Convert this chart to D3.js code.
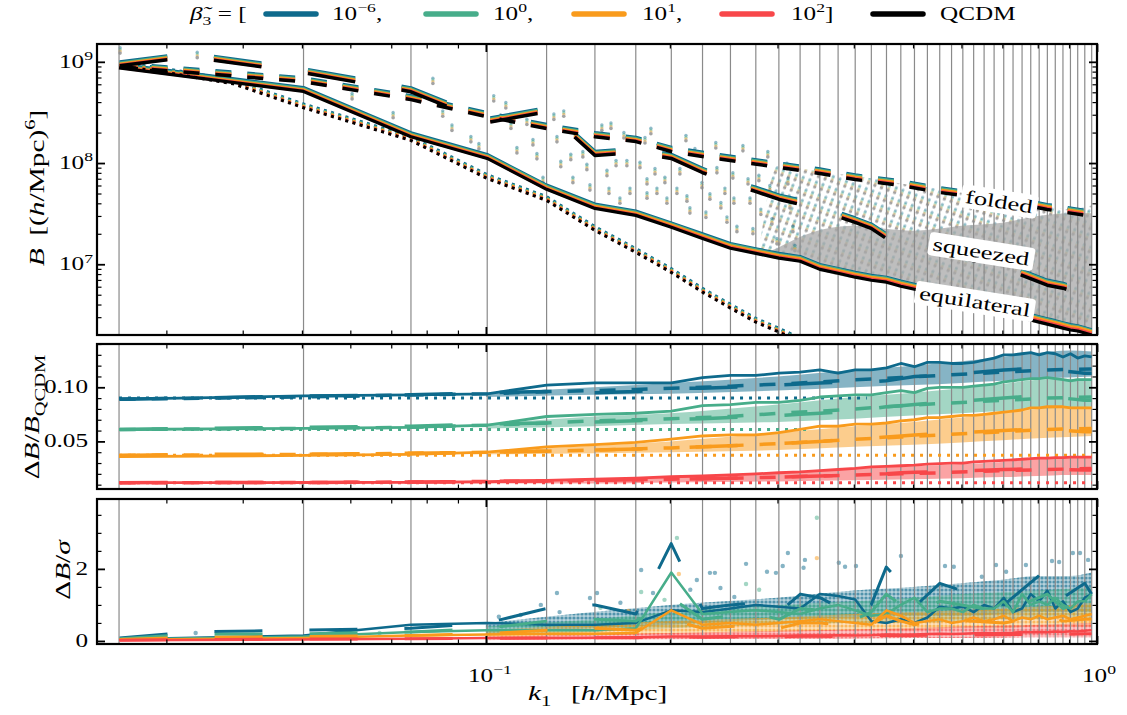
<!DOCTYPE html>
<html>
<head>
<meta charset="utf-8">
<script src="https://cdn.jsdelivr.net/npm/d3@7/dist/d3.min.js"></script>
<style>
body{margin:0;background:#fff;}
</style>
</head>
<body>
<svg id="fig" width="1127" height="715"></svg>
<script>
// k1 bins, multiples of the fundamental mode (h/Mpc)
var kBins = [0.0251,0.0503,0.0754,0.1005,0.1257,0.1508,0.1759,0.2011,0.2262,0.2513,0.2765,0.3016,0.3267,0.3519,0.3770,0.4021,0.4273,0.4524,0.4775,0.5027,0.5278,0.5529,0.5781,0.6032,0.6283,0.6535,0.6786,0.7037,0.7288,0.7540,0.7791,0.8042,0.8294,0.8545,0.8796,0.9048,0.9299,0.9550,0.9802];

// top panel: QCDM bispectrum
var bEquilQCDM = [8.7e8,5.1e8,1.82e8,1.11e8,5.5e7,3.56e7,3.04e7,2.32e7,1.80e7,1.44e7,1.28e7,1.15e7,1.07e7,8.9e6,8.15e6,7.45e6,6.95e6,6.65e6,6.07e6,5.67e6,5.30e6,4.95e6,4.62e6,4.32e6,4.03e6,3.77e6,3.52e6,3.29e6,3.07e6,2.94e6,2.81e6,2.68e6,2.56e6,2.45e6,2.34e6,2.24e6,2.19e6,2.09e6,2.0e6];
var kSqueezed = [0.02516,0.0328,0.0503,0.0754,0.1005,0.1257,0.1508,0.176,0.201,0.226,0.251,0.276,0.302,0.327,0.352,0.402,0.427,0.452,0.478,0.503,0.553,0.704,0.829,0.880,0.955,0.980];
var bSqueezedQCDM = [9.14e8,1.12e9,7.8e8,5.06e8,2.51e8,3.21e8,1.19e8,1.27e8,1.11e8,8.06e7,6.28e7,5.24e7,4.37e7,3.90e7,3.40e7,2.59e7,2.26e7,1.80e7,1.61e7,1.65e7,1.31e7,9.14e6,6.21e6,5.80e6,4.95e6,4.62e6];
var kFolded = [0.02516,0.0503,0.0754,0.1005,0.1257,0.1508,0.176,0.201,0.226,0.251,0.302,0.352,0.402,0.478,0.553,0.704,0.829,0.980];
var bFoldedQCDM = [8.93e8,6.36e8,4.23e8,2.87e8,2.19e8,1.82e8,1.63e8,1.30e8,1.16e8,1.06e8,9.04e7,7.89e7,6.88e7,6.00e7,5.12e7,4.18e7,3.48e7,2.97e7];
var kDotted = [0.0252,0.0301,0.0386,0.0503,0.0754,0.1005,0.1257,0.1508,0.1759,0.2011,0.2262,0.2513,0.2765,0.3016,0.3267];
var bDottedQCDM = [9.1e8,7.8e8,6.07e8,3.52e8,1.67e8,7.03e7,4.27e7,2.16e7,1.31e7,8.3e6,5.3e6,3.69e6,2.68e6,2.14e6,1.71e6];

// cloud of all triangle configurations (envelopes at high k, single points below)
var kCloud = [0.28,0.30,0.33,0.36,0.40,0.45,0.50,0.55,0.60,0.70,0.80,0.90,0.98];
var bCloudTop = [1.4e7,9.4e7,8.8e7,8.0e7,7.5e7,6.7e7,6.0e7,5.6e7,5.1e7,4.5e7,4.0e7,3.5e7,3.8e7];
var bCloudMid = [1.22e7,1.45e7,1.91e7,2.24e7,2.4e7,2.24e7,2.14e7,2.24e7,2.4e7,2.57e7,3.0e7,3.2e7,3.2e7];
var bCloudLow = [1.22e7,1.13e7,1.03e7,8.4e6,7.3e6,6.6e6,5.6e6,4.9e6,4.3e6,3.2e6,2.6e6,2.25e6,1.96e6];
var topDotK = [0.0252,0.0337,0.0604,0.0705,0.0819,0.0850,0.0880,0.0945,0.0974,0.1030,0.1078,0.1099,0.1124,0.1167,0.1194,0.1212,0.1240,0.1292,0.1307,0.1341,0.1326,0.1377,0.1388,0.1441,0.1463,0.1480,0.1548,0.1602,0.1578,0.1590,0.1633,0.1657,0.1682,0.1701,0.1721,0.1787,0.1821,0.1835,0.1862,0.1835,0.1891,0.1905,0.1963,0.1978,0.2054,0.2077,0.2125,0.2133,0.2157,0.2198,0.2257,0.2291,0.2326,0.2378,0.2388,0.2424,0.2461,0.2480,0.2536,0.2546,0.2575,0.2634,0.2685,0.2705,0.2735,0.2797,0.2818,0.2893,0.2915,0.2938,0.2994,0.3109,0.3121,0.3145,0.3180,0.3204];
var topDotB = [1.22e9,1.10e9,4.3e8,2.8e8,6.1e8,2.9e8,2.1e8,1.62e8,1.38e8,4.1e8,3.5e8,2.2e8,1.26e8,2.4e8,1.51e8,1.10e8,6.4e7,2.7e8,1.62e8,2.9e8,9.2e7,1.08e8,6.4e7,1.15e8,8.6e7,5.4e7,2.1e8,2.2e8,7.5e7,5.0e7,9.4e7,4.0e7,1.77e8,9.4e7,5.0e7,9.0e7,1.58e8,6.2e7,1.95e8,4.5e7,7.8e7,5.0e7,6.4e7,4.0e7,5.0e7,7.8e7,1.66e8,4.2e7,3.2e7,1.23e8,5.7e7,2.9e7,4.4e7,1.41e8,8.0e7,3.6e7,5.0e7,2.6e7,7.1e7,4.0e7,2.1e7,1.32e8,6.2e7,4.0e7,2.0e7,6.7e7,3.1e7,1.15e8,5.3e7,2.5e7,1.59e7,8.8e7,6.2e7,3.6e7,2.1e7,1.36e7];

// shape labels
var shapeNames = ["folded","squeezed","equilateral"];
var shapeK = [0.691,0.646,0.631];
var shapeB = [4.12e7,1.32e7,4.23e6];

// models
var betaLabels = ["\u22126","0","1","2"];
var betaColors = ["#0e6a8c","#47ad8a","#f99b1c","#f8474a"];

// middle panel: Delta B / B_QCDM
var ratioSolidBlue = [0.089,0.092,0.093,0.094,0.102,0.104,0.104,0.104,0.109,0.111,0.111,0.113,0.114,0.116,0.113,0.116,0.116,0.118,0.122,0.119,0.123,0.123,0.122,0.122,0.123,0.125,0.127,0.130,0.130,0.131,0.132,0.130,0.132,0.131,0.128,0.131,0.127,0.129,0.128];
var ratioSolidGreen = [0.061,0.062,0.063,0.065,0.073,0.075,0.076,0.078,0.083,0.084,0.086,0.086,0.088,0.091,0.092,0.093,0.093,0.095,0.097,0.095,0.099,0.100,0.100,0.100,0.101,0.102,0.103,0.105,0.106,0.107,0.108,0.108,0.109,0.108,0.107,0.106,0.107,0.107,0.107];
var ratioSolidOrange = [0.036,0.037,0.038,0.040,0.045,0.047,0.049,0.052,0.055,0.056,0.056,0.058,0.061,0.064,0.064,0.066,0.066,0.067,0.069,0.070,0.072,0.072,0.073,0.074,0.074,0.075,0.076,0.077,0.078,0.079,0.081,0.081,0.082,0.082,0.082,0.081,0.081,0.081,0.081];
var ratioSolidRed = [0.0118,0.012,0.0122,0.0127,0.014,0.015,0.016,0.0173,0.018,0.019,0.020,0.021,0.0218,0.023,0.024,0.025,0.0264,0.027,0.0275,0.028,0.029,0.0295,0.030,0.030,0.031,0.0315,0.032,0.0325,0.033,0.0335,0.034,0.0345,0.0345,0.035,0.035,0.0355,0.0355,0.0355,0.0355];
var ratioSqBlue = [0.089,0.090,0.092,0.093,0.095,0.096,0.095,0.096,0.099,0.099,0.100,0.101,0.102,0.103,0.104,0.105,0.105,0.106,0.108,0.110,0.111,0.116,0.118,0.115,0.113,0.113];
var ratioSqGreen = [0.061,0.062,0.063,0.064,0.066,0.067,0.068,0.069,0.070,0.071,0.072,0.073,0.074,0.075,0.076,0.078,0.080,0.082,0.083,0.084,0.086,0.090,0.093,0.090,0.088,0.088];
var ratioSqOrange = [0.037,0.038,0.038,0.039,0.040,0.041,0.042,0.043,0.044,0.045,0.046,0.047,0.048,0.049,0.050,0.052,0.053,0.054,0.055,0.056,0.057,0.060,0.062,0.060,0.059,0.059];
var ratioSqRed = [0.0118,0.012,0.012,0.0125,0.013,0.0135,0.014,0.0145,0.015,0.0155,0.016,0.0165,0.017,0.0175,0.018,0.019,0.0195,0.020,0.021,0.0215,0.022,0.024,0.025,0.024,0.0235,0.0235];
var ratioFoBlue = [0.089,0.091,0.093,0.094,0.096,0.097,0.098,0.099,0.100,0.101,0.103,0.105,0.107,0.109,0.111,0.114,0.116,0.117];
var ratioFoGreen = [0.061,0.062,0.063,0.065,0.067,0.069,0.070,0.071,0.072,0.073,0.076,0.078,0.080,0.083,0.085,0.088,0.090,0.091];
var ratioFoOrange = [0.037,0.038,0.039,0.040,0.041,0.042,0.043,0.044,0.045,0.046,0.048,0.050,0.052,0.054,0.056,0.059,0.061,0.062];
var ratioFoRed = [0.0118,0.012,0.0125,0.013,0.0135,0.014,0.0145,0.015,0.0155,0.016,0.017,0.018,0.019,0.020,0.021,0.023,0.024,0.025];
var ratioDotLevel = [0.090,0.061,0.0373,0.0118];
var ratioDotKmax = [0.42,0.34,0.98,0.98];
var kBand = [0.1,0.15,0.2,0.3,0.4,0.5,0.6,0.7,0.8,0.9,0.98];
var bandMidBlueLo = [0.091,0.093,0.094,0.097,0.100,0.102,0.104,0.106,0.108,0.109,0.110];
var bandMidBlueHi = [0.095,0.100,0.104,0.110,0.116,0.120,0.124,0.128,0.132,0.134,0.133];
var bandMidGreenLo = [0.062,0.064,0.066,0.068,0.071,0.074,0.076,0.078,0.080,0.081,0.082];
var bandMidGreenHi = [0.066,0.073,0.076,0.084,0.091,0.095,0.099,0.103,0.107,0.108,0.108];
var bandMidOrangeLo = [0.038,0.039,0.040,0.042,0.045,0.047,0.049,0.051,0.053,0.054,0.055];
var bandMidOrangeHi = [0.041,0.046,0.050,0.058,0.064,0.068,0.072,0.076,0.080,0.082,0.082];
var bandMidRedLo = [0.011,0.011,0.012,0.013,0.014,0.015,0.016,0.017,0.018,0.019,0.019];
var bandMidRedHi = [0.0135,0.015,0.017,0.021,0.025,0.027,0.029,0.031,0.034,0.035,0.036];

// bottom panel: Delta B / sigma
var sigSolidBlue = [0.05,0.15,0.45,0.5,0.45,0.45,0.5,0.85,0.8,0.9,1.0,0.95,0.9,1.3,1.25,1.15,0.55,0.5,0.6,0.5,0.65,0.95,0.9,0.95,0.8,1.0,0.9,1.2,0.8,0.9,1.3,1.1,1.4,0.9,1.1,0.8,0.9,1.2,1.3];
var sigSolidGreen = [0.04,0.12,0.25,0.3,0.3,0.3,0.35,1.9,0.75,0.8,0.85,0.8,0.75,0.9,1.0,0.85,0.7,0.75,1.0,1.2,0.8,0.9,0.9,0.8,1.0,0.9,0.9,1.1,0.8,1.3,1.0,1.1,1.0,1.2,1.0,0.9,1.1,1.1,1.3];
var sigSolidOrange = [0.03,0.08,0.15,0.18,0.2,0.2,0.22,0.85,0.45,0.5,0.45,0.5,0.55,0.6,0.55,0.5,0.45,0.85,0.7,0.5,0.55,0.6,0.5,0.55,0.65,0.55,0.6,0.7,0.55,0.65,0.6,0.7,0.6,0.65,0.7,0.6,0.65,0.7,0.75];
var sigSolidRed = [0.02,0.04,0.06,0.08,0.08,0.09,0.1,0.12,0.12,0.13,0.13,0.14,0.15,0.15,0.16,0.15,0.16,0.18,0.17,0.18,0.19,0.2,0.19,0.2,0.21,0.22,0.21,0.22,0.23,0.25,0.24,0.25,0.24,0.26,0.25,0.27,0.26,0.28,0.3];
var sigSqBlue = [0.08,0.25,0.3,0.35,0.5,0.9,1.0,0.75,2.7,0.9,1.0,1.05,0.8,1.3,1.2,0.7,1.0,2.05,1.6,0.95,1.6,1.0,2.0,1.2,1.6,1.3];
var sigSqGreen = [0.06,0.18,0.2,0.25,0.35,0.55,0.6,0.55,1.2,0.6,0.7,0.75,0.6,0.9,0.85,0.6,0.8,1.3,1.0,0.75,1.1,0.8,1.3,0.9,1.1,1.0];
var sigSqOrange = [0.04,0.1,0.12,0.15,0.2,0.3,0.35,0.3,0.6,0.35,0.4,0.45,0.35,0.5,0.5,0.4,0.45,0.7,0.55,0.45,0.6,0.5,0.7,0.55,0.6,0.6];
var sigSqRed = [0.02,0.04,0.05,0.06,0.07,0.08,0.09,0.09,0.12,0.1,0.11,0.12,0.11,0.13,0.13,0.12,0.14,0.16,0.15,0.15,0.16,0.17,0.19,0.18,0.2,0.2];
var bandBotBlueLo = [0.2,0.35,0.45,0.6,0.65,0.7,0.7,0.75,0.8,0.8,0.8];
var bandBotBlueHi = [0.5,0.8,1.0,1.2,1.4,1.5,1.6,1.7,1.8,1.8,1.9];
var bandBotGreenLo = [0.15,0.25,0.35,0.45,0.5,0.5,0.55,0.6,0.6,0.65,0.65];
var bandBotGreenHi = [0.4,0.6,0.8,1.0,1.1,1.2,1.3,1.35,1.4,1.45,1.5];
var bandBotOrangeLo = [0.08,0.15,0.2,0.25,0.3,0.3,0.35,0.35,0.4,0.4,0.4];
var bandBotOrangeHi = [0.3,0.45,0.55,0.65,0.75,0.8,0.85,0.9,0.95,1.0,1.05];
var bandBotRedLo = [0.02,0.04,0.05,0.06,0.07,0.08,0.08,0.09,0.1,0.1,0.1];
var bandBotRedHi = [0.12,0.18,0.22,0.28,0.32,0.36,0.4,0.42,0.45,0.48,0.5];
var botDotK = [0.0335,0.067,0.1795,0.1795,0.2054,0.2069,0.2326,0.237,0.2665,0.2884,0.2983,0.312,0.306,0.1307,0.148,0.152,0.1877,0.2214,0.2665,0.348,0.348,0.3327,0.331,0.378,0.387,0.4033,0.4777,0.564,0.583,0.6835,0.71,0.765,0.844,0.867,0.913,0.938,0.967,0.648,0.166,0.196,0.255,0.28,0.216,0.242,0.154,0.132,0.114,0.105,0.123,0.171];
var botDotV = [0.22,0.22,1.97,1.36,2.86,1.86,1.89,1.89,2.14,1.92,1.89,2.44,2.08,1.33,1.19,1.33,1.33,1.69,1.58,3.42,2.3,2.25,2.03,2.17,2.06,2.08,2.36,2.08,2.06,2.11,1.92,2.11,2.22,2.19,2.44,2.44,2.25,1.78,1.06,1.14,1.22,1.42,1.42,1.47,0.92,0.8,0.72,0.67,1.0,0.83];
var botDotC = [0,1,0,1,1,2,0,0,0,0,0,0,0,0,0,0,0,0,1,1,2,0,0,0,0,0,0,0,0,0,0,0,0,0,0,0,0,0,0,1,0,1,0,0,1,0,0,0,0,2];

// ticks
var xMajor = [0.1,1];
var xMinor = [0.03,0.04,0.05,0.06,0.07,0.08,0.09,0.2,0.3,0.4,0.5,0.6,0.7,0.8,0.9];

var ratioSolid = [ratioSolidBlue,ratioSolidGreen,ratioSolidOrange,ratioSolidRed];
var ratioSq = [ratioSqBlue,ratioSqGreen,ratioSqOrange,ratioSqRed];
var ratioFo = [ratioFoBlue,ratioFoGreen,ratioFoOrange,ratioFoRed];
var bandMid = [[bandMidBlueLo,bandMidBlueHi],[bandMidGreenLo,bandMidGreenHi],[bandMidOrangeLo,bandMidOrangeHi],[bandMidRedLo,bandMidRedHi]];
var sigSolid = [sigSolidBlue,sigSolidGreen,sigSolidOrange,sigSolidRed];
var sigSq = [sigSqBlue,sigSqGreen,sigSqOrange,sigSqRed];
var bandBot = [[bandBotBlueLo,bandBotBlueHi],[bandBotGreenLo,bandBotGreenHi],[bandBotOrangeLo,bandBotOrangeHi],[bandBotRedLo,bandBotRedHi]];

var FONT = "'Liberation Serif','DejaVu Serif',serif";
var FS = 18, SX = 1.4;
var L = 97, R = 1097;
var svg = d3.select("#fig");

var x = d3.scaleLog().domain([0.0231,1.0]).range([L,R]);
var yTop = d3.scaleLog().domain([2e6,1.5e9]).range([335,44]);
var yMid = d3.scaleLinear().domain([0.006,0.14]).range([489,344]);
var yBot = d3.scaleLinear().domain([-0.085,3.94]).range([644,499]);

function zip(a,b){ return a.map(function(v,i){ return [v,b[i]]; }); }

function addLine(g,pts,ys,color,w,dash){
  g.append("path").datum(pts)
    .attr("d", d3.line().x(function(d){return x(d[0]);}).y(function(d){return ys(d[1]);}))
    .attr("fill","none").attr("stroke",color).attr("stroke-width",w)
    .attr("stroke-dasharray",dash||null)
    .attr("stroke-linejoin","round");
}
function addBand(g,ks,lo,hi,ys,fill,op){
  var pts = ks.map(function(k,i){ return {k:k,lo:lo[i],hi:hi[i]}; });
  g.append("path").datum(pts)
    .attr("d", d3.area().curve(d3.curveMonotoneX).x(function(d){return x(d.k);}).y0(function(d){return ys(d.lo);}).y1(function(d){return ys(d.hi);}))
    .attr("fill",fill).attr("fill-opacity",op).attr("stroke","none");
}

// math-ish text, stretched along the text direction like the reference
function mtext(g,px,py,parts,opt){
  opt = opt||{};
  var size = opt.size||FS;
  var tr = "translate("+px+","+py+")";
  if(opt.rot) tr += " rotate("+opt.rot+")";
  tr += " scale("+SX+",1)";
  var t = g.append("g").attr("transform",tr).append("text")
    .attr("text-anchor",opt.anchor||"start")
    .attr("font-family",FONT).attr("font-size",size).attr("fill","#000");
  var shift = 0;
  parts.forEach(function(p){
    var sp = t.append("tspan").text(p.t);
    var target = p.sup ? -0.42*size : (p.sub ? 0.28*size : 0);
    sp.attr("dy",target-shift); shift = target;
    if(p.sup||p.sub) sp.attr("font-size",size*0.7);
    if(p.i) sp.attr("font-style","italic");
    if(p.dx) sp.attr("dx",p.dx);
  });
  return t;
}

var defs = svg.append("defs");
// dotted textures for the dense scatter clouds
function dotPattern(id,w,h,rot,dots){
  var p = defs.append("pattern").attr("id",id).attr("patternUnits","userSpaceOnUse")
    .attr("width",w).attr("height",h).attr("patternTransform","rotate("+rot+")");
  dots.forEach(function(d){
    p.append("circle").attr("cx",d[0]).attr("cy",d[1]).attr("r",d[2])
      .attr("fill",d[3]).attr("fill-opacity",d[4]);
  });
}
dotPattern("cloudTex",7,11,20,[[3.5,1.8,1.5,betaColors[0],0.45],[3.5,3.6,1.5,betaColors[1],0.4],[3.5,5.4,1.5,betaColors[2],0.4],[3.5,7.0,1.7,"#9a9a9a",0.9]]);
betaColors.forEach(function(c,i){
  dotPattern("botTex"+i,4,4,0,[[2,2,1.6,c,0.6]]);
});

function panel(name,y0,y1){
  defs.append("clipPath").attr("id","clip-"+name).append("rect")
    .attr("x",L).attr("y",y0).attr("width",R-L).attr("height",y1-y0);
  return svg.append("g").attr("clip-path","url(#clip-"+name+")");
}
function gridLines(g,y0,y1){
  g.selectAll(null).data(kBins).enter().append("line")
    .attr("x1",function(d){return x(d);}).attr("x2",function(d){return x(d);})
    .attr("y1",y0).attr("y2",y1)
    .attr("stroke","#8a8a8a").attr("stroke-width",1.2);
}
function axesFrame(y0,y1,ys,yMaj,yMin){
  var g = svg.append("g");
  function put(axis,tr,vals,len,w){
    var a = g.append("g").attr("transform",tr)
      .call(axis.tickValues(vals).tickSize(-len).tickFormat(""));
    a.select(".domain").remove();
    a.selectAll("line").attr("stroke","#000").attr("stroke-width",w);
  }
  put(d3.axisBottom(x),"translate(0,"+y1+")",xMajor,8,1.8);
  put(d3.axisBottom(x),"translate(0,"+y1+")",xMinor,4.5,1.2);
  put(d3.axisTop(x),"translate(0,"+y0+")",xMajor,8,1.8);
  put(d3.axisTop(x),"translate(0,"+y0+")",xMinor,4.5,1.2);
  put(d3.axisLeft(ys),"translate("+L+",0)",yMaj,8,1.8);
  put(d3.axisLeft(ys),"translate("+L+",0)",yMin,4.5,1.2);
  put(d3.axisRight(ys),"translate("+R+",0)",yMaj,8,1.8);
  put(d3.axisRight(ys),"translate("+R+",0)",yMin,4.5,1.2);
  g.append("rect").attr("x",L).attr("y",y0).attr("width",R-L).attr("height",y1-y0)
    .attr("fill","none").attr("stroke","#000").attr("stroke-width",2.2);
}

// ---------- top panel ----------
var gTop = panel("top",44,335);
addBand(gTop,kCloud,bCloudLow,bCloudTop,yTop,"url(#cloudTex)",1);
addBand(gTop,kCloud,bCloudLow,bCloudMid,yTop,"#a8a8a8",0.75);
var dotOff = [-5.4,-3.6,-1.8];
topDotK.forEach(function(k,i){
  var cx = x(k), cy = yTop(topDotB[i]);
  [0,1,2].forEach(function(c){
    gTop.append("circle").attr("cx",cx).attr("cy",cy+dotOff[c]).attr("r",1.7)
      .attr("fill",betaColors[c]).attr("fill-opacity",0.45);
  });
  gTop.append("circle").attr("cx",cx).attr("cy",cy).attr("r",1.8).attr("fill","#a3a3a3");
});
gridLines(gTop,44,335);
[0,1,2,3,4].forEach(function(c){
  var col = c<4 ? betaColors[c] : "#000";
  var f = function(arr,i){ return c<4 ? 1+arr[i] : 1; };
  addLine(gTop,kDotted.map(function(k,i){ return [k,bDottedQCDM[i]*(c<4?1+ratioDotLevel[c]:1)]; }),yTop,col,3,"3,4.5");
  addLine(gTop,kFolded.map(function(k,i){ return [k,bFoldedQCDM[i]*(c<4?f(ratioFo[c],i):1)]; }),yTop,col,3.5,"16,16");
  addLine(gTop,kSqueezed.map(function(k,i){ return [k,bSqueezedQCDM[i]*(c<4?f(ratioSq[c],i):1)]; }),yTop,col,3.5,"48,47");
  addLine(gTop,kBins.map(function(k,i){ return [k,bEquilQCDM[i]*(c<4?f(ratioSolid[c],i):1)]; }),yTop,col,3.2,null);
});
axesFrame(44,335,yTop,[1e7,1e8,1e9],
  [3e6,4e6,5e6,6e6,7e6,8e6,9e6,2e7,3e7,4e7,5e7,6e7,7e7,8e7,9e7,2e8,3e8,4e8,5e8,6e8,7e8,8e8,9e8]);
shapeNames.forEach(function(s,i){
  var g = svg.append("g").attr("transform","translate("+x(shapeK[i])+","+yTop(shapeB[i])+") rotate(9) scale("+SX+",1)");
  var t = g.append("text").attr("text-anchor","middle").attr("y",6)
    .attr("font-family",FONT).attr("font-size",FS+1).text(s);
  var bb = t.node().getBBox();
  g.insert("rect","text").attr("x",bb.x-3).attr("y",bb.y-1)
    .attr("width",bb.width+6).attr("height",bb.height+2).attr("rx",3).attr("fill","#fff");
});
[7,8,9].forEach(function(e){
  mtext(svg,93,yTop(Math.pow(10,e))+6,[{t:"10"},{t:String(e),sup:1}],{anchor:"end"});
});

// ---------- middle panel ----------
var gMid = panel("mid",344,489);
[0,1,2,3].forEach(function(c){
  addBand(gMid,kBand,bandMid[c][0],bandMid[c][1],yMid,betaColors[c],0.5);
});
gridLines(gMid,344,489);
[0,1,2,3].forEach(function(c){
  var col = betaColors[c];
  addLine(gMid,[[kBins[0],ratioDotLevel[c]],[ratioDotKmax[c],ratioDotLevel[c]]],yMid,col,3,"3,6");
  addLine(gMid,zip(kFolded,ratioFo[c]),yMid,col,3.5,"16,16");
  addLine(gMid,zip(kSqueezed,ratioSq[c]),yMid,col,3.5,"48,47");
  addLine(gMid,zip(kBins,ratioSolid[c]),yMid,col,2.8,null);
});
axesFrame(344,489,yMid,[0.05,0.10],[0.01,0.02,0.03,0.04,0.06,0.07,0.08,0.09,0.11,0.12,0.13,0.14]);
mtext(svg,88,yMid(0.10)+6,[{t:"0.10"}],{anchor:"end"});
mtext(svg,88,yMid(0.05)+6,[{t:"0.05"}],{anchor:"end"});

// ---------- bottom panel ----------
var gBot = panel("bot",499,644);
[0,1,2,3].forEach(function(c){
  addBand(gBot,kBand,bandBot[c][0],bandBot[c][1],yBot,betaColors[c],0.3);
  addBand(gBot,kBand,bandBot[c][0],bandBot[c][1],yBot,"url(#botTex"+c+")",1);
});
botDotK.forEach(function(k,i){
  gBot.append("circle").attr("cx",x(k)).attr("cy",yBot(botDotV[i])).attr("r",2.2)
    .attr("fill",betaColors[botDotC[i]]).attr("fill-opacity",0.5);
});
gridLines(gBot,499,644);
[0,1,2,3].forEach(function(c){
  var col = betaColors[c];
  addLine(gBot,zip(kSqueezed,sigSq[c]),yBot,col,3,"48,47");
  addLine(gBot,zip(kBins,sigSolid[c]),yBot,col,2.5,null);
});
axesFrame(499,644,yBot,[0,2],[0.5,1,1.5,2.5,3,3.5]);
mtext(svg,88,yBot(2)+6,[{t:"2"}],{anchor:"end"});
mtext(svg,88,yBot(0)+6,[{t:"0"}],{anchor:"end"});

// x tick labels
mtext(svg,x(0.1)+4,682,[{t:"10"},{t:"\u22121",sup:1}],{anchor:"middle"});
mtext(svg,x(1)+2,682,[{t:"10"},{t:"0",sup:1}],{anchor:"middle"});

// axis labels
mtext(svg,528,700,[{t:"k",i:1},{t:"1",sub:1},{t:"[",dx:14},{t:"h",i:1},{t:"/Mpc]"}],{size:21});
mtext(svg,44,188,[{t:"B",i:1},{t:"[(",dx:9},{t:"h",i:1},{t:"/Mpc)"},{t:"6",sup:1},{t:"]"}],{anchor:"middle",rot:-90,size:21});
mtext(svg,39,417,[{t:"\u0394"},{t:"B",i:1},{t:"/"},{t:"B",i:1},{t:"QCDM",sub:1}],{anchor:"middle",rot:-90,size:21});
mtext(svg,70,570,[{t:"\u0394"},{t:"B",i:1},{t:"/"},{t:"\u03c3",i:1}],{anchor:"middle",rot:-90,size:21});

// legend
var legLineX = [266,426,574,722,873];
var legTextX = [332,493,642,791,940];
mtext(svg,190,20,[{t:"\u03b2\u0303",i:1},{t:"3",sub:1},{t:" = ["}]);
[0,1,2,3,4].forEach(function(c){
  svg.append("line").attr("x1",legLineX[c]).attr("x2",legLineX[c]+50)
    .attr("y1",14).attr("y2",14)
    .attr("stroke",c<4?betaColors[c]:"#000").attr("stroke-width",5.5).attr("stroke-linecap","round");
  if(c<4){
    mtext(svg,legTextX[c],20,[{t:"10"},{t:betaLabels[c],sup:1},{t:c<3?",":"]"}]);
  } else {
    mtext(svg,legTextX[c],20,[{t:"QCDM"}]);
  }
});
</script>
</body>
</html>
